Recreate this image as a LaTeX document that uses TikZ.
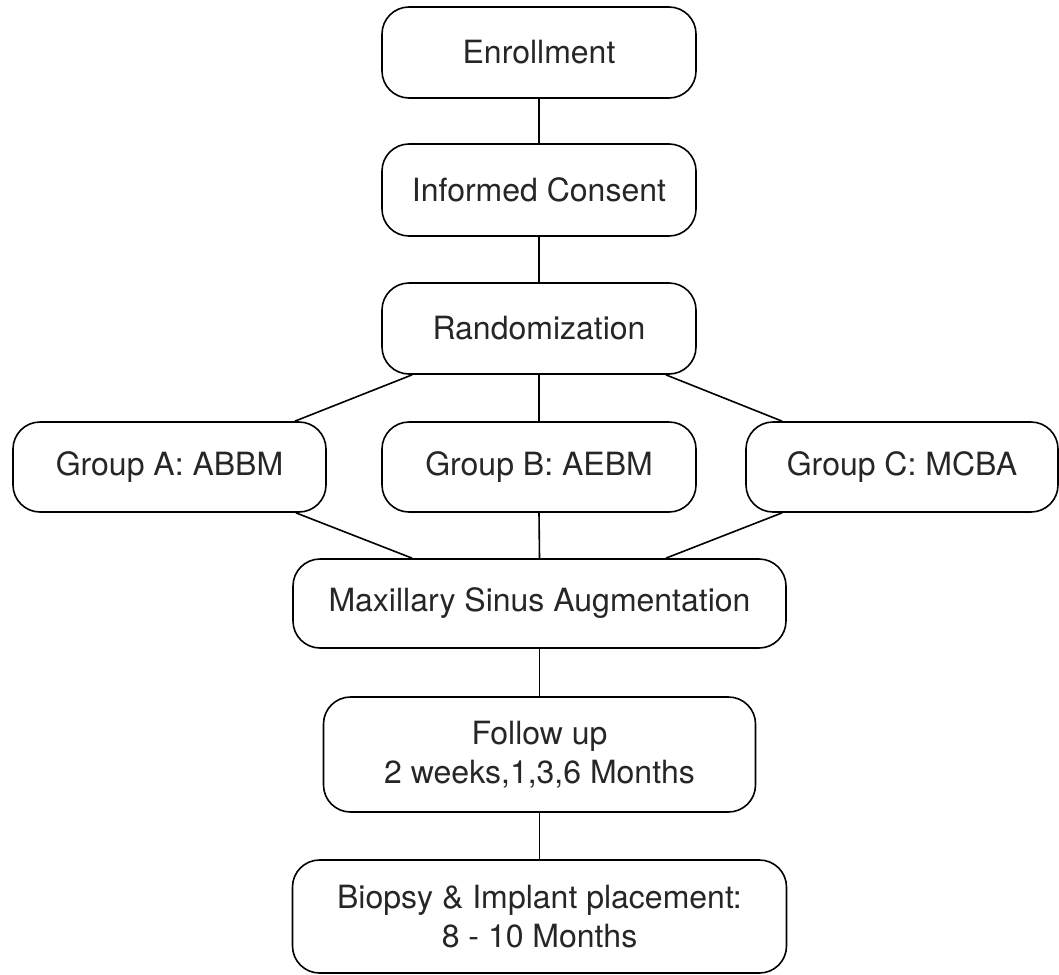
\documentclass[tikz,border=0pt]{standalone}
\usepackage{fontspec}
\setmainfont{TeX Gyre Heros}
\usetikzlibrary{calc}
\tikzset{
  box/.style={draw=black, line width=1.6pt, rounded corners=27pt, inner sep=0pt,
    align=center, font=\fontsize{32pt}{39pt}\selectfont, text=black!85},
  link/.style={draw=black, line width=1.6pt}
}
\begin{document}
\begin{tikzpicture}[x=1pt,y=-1pt]
\useasboundingbox (0,0) rectangle (1059,974);
\node[box, minimum width=314pt, minimum height=91pt] (enr) at (539,52.5) {Enrollment};
\node[box, minimum width=314pt, minimum height=92pt] (ic) at (539,190) {Informed Consent};
\node[box, minimum width=314pt, minimum height=91pt] (rand) at (539,328.5) {Randomization};
\node[box, minimum width=313pt, minimum height=90pt] (ga) at (169.5,467) {Group A: ABBM};
\node[box, minimum width=314pt, minimum height=90pt] (gb) at (539,467) {Group B: AEBM};
\node[box, minimum width=312pt, minimum height=90pt] (gc) at (902,467) {Group C: MCBA};
\node[box, minimum width=493pt, minimum height=89pt] (max) at (539.5,603.5) {Maxillary Sinus Augmentation};
\node[box, minimum width=432pt, minimum height=115pt] (fu) at (539.5,754.5) {Follow up\\2 weeks,1,3,6 Months};
\node[box, minimum width=494pt, minimum height=113pt] (bio) at (539.5,916.5) {Biopsy \& Implant placement:\\8 - 10 Months};

\coordinate (r1) at ($(rand.south west)+(31,0)$);
\coordinate (r3) at ($(rand.south east)+(-31,0)$);
\coordinate (a1) at ($(ga.north east)+(-32,0)$);
\coordinate (a2) at ($(ga.south east)+(-31,0)$);
\coordinate (c1) at ($(gc.north west)+(37,0)$);
\coordinate (c2) at ($(gc.south west)+(37,0)$);
\coordinate (m1) at ($(max.north west)+(120,0)$);
\coordinate (m3) at ($(max.north east)+(-121,0)$);

\draw[link] (enr.south) -- (ic.north);
\draw[link] (ic.south) -- (rand.north);
\draw[link] (rand.south) -- (gb.north);
\draw[link] (r1) -- (a1);
\draw[link] (r3) -- (c1);
\draw[link] (gb.south) -- (max.north);
\draw[link] (a2) -- (m1);
\draw[link] (c2) -- (m3);
\draw[link] (max.south) -- (fu.north);
\draw[link] (fu.south) -- (bio.north);
\end{tikzpicture}
\end{document}
